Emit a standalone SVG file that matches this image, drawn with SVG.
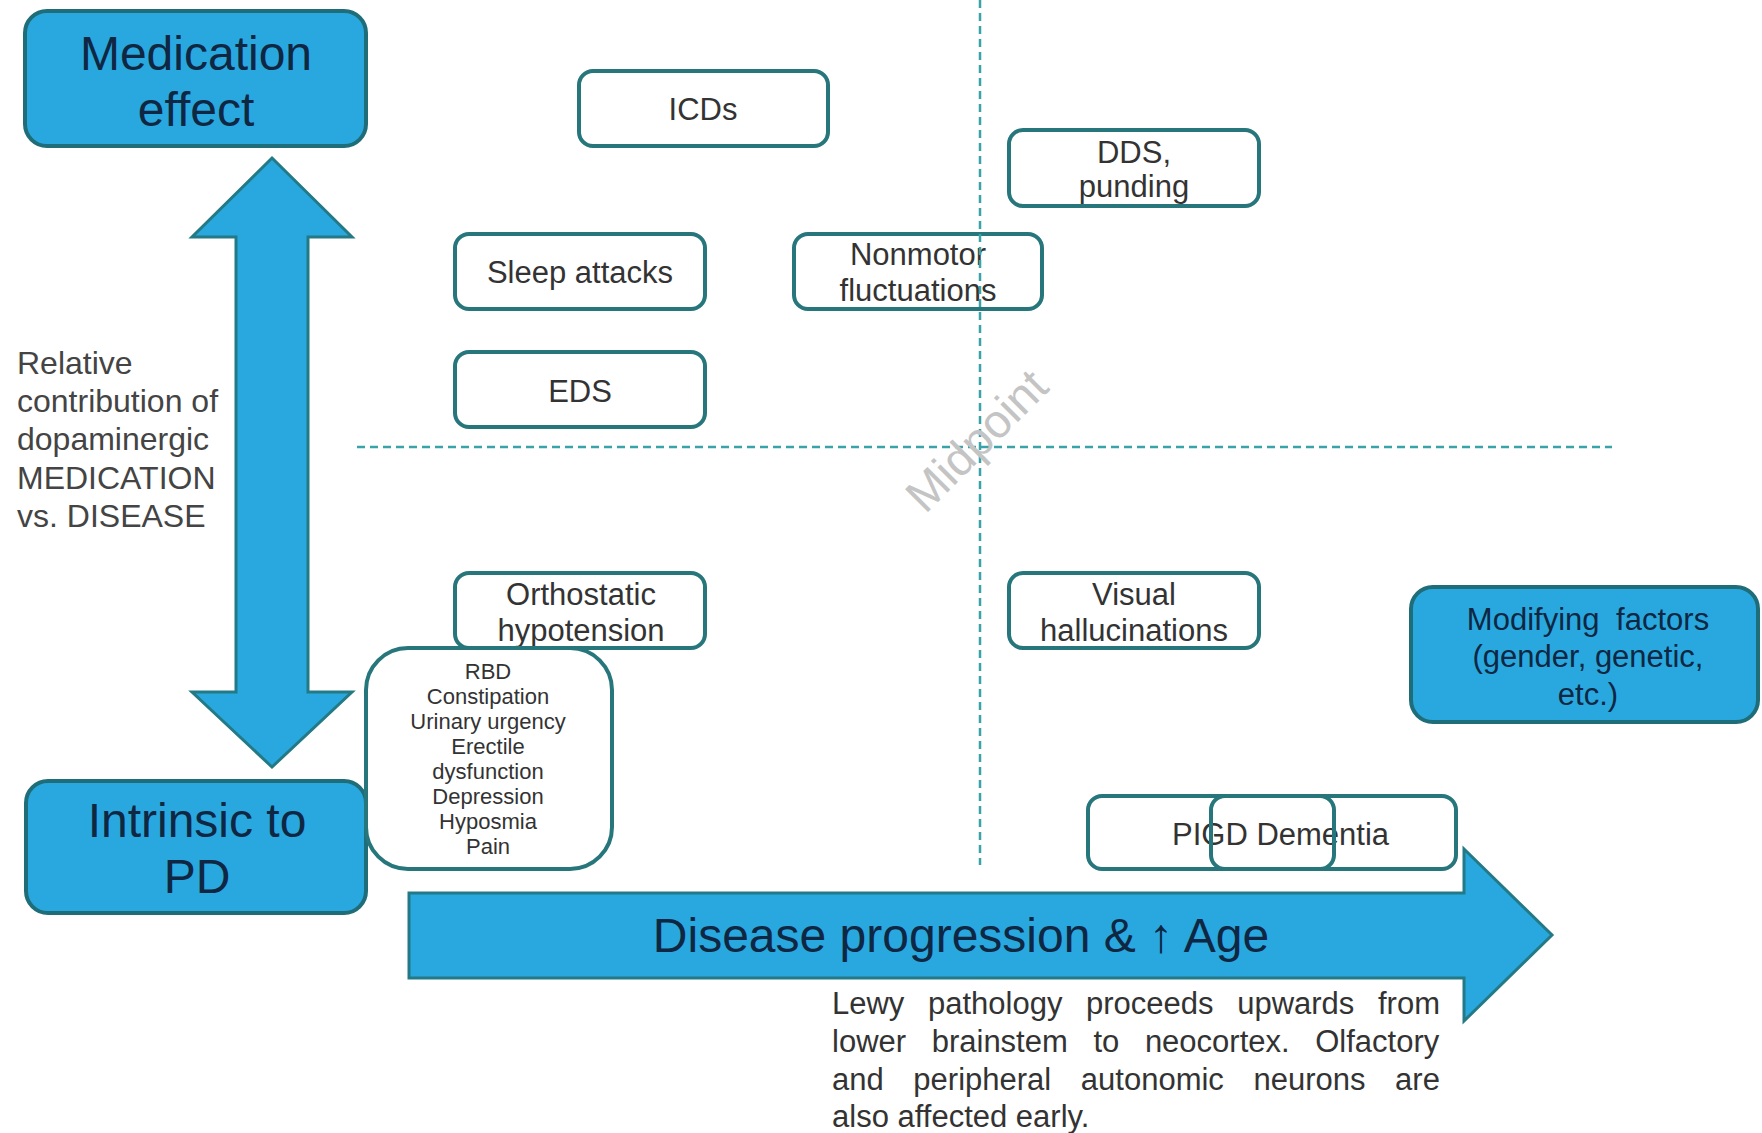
<svg xmlns="http://www.w3.org/2000/svg" width="1762" height="1133" viewBox="0 0 1762 1133">
<style>
.box{fill:#ffffff;stroke:#26767c;stroke-width:4}
.fillonly{fill:#ffffff;stroke:none}
.strokeonly{fill:none;stroke:#26767c;stroke-width:4}
.blue{fill:#29a8df;stroke:#1f6d78;stroke-width:4}
.arrow{fill:#29a8df;stroke:#237a86;stroke-width:3;stroke-linejoin:miter}
.dash{stroke:#3aa3a8;stroke-width:2.5;stroke-dasharray:8 5;fill:none}
text{font-family:"Liberation Sans",Arial,sans-serif}
.t{font-size:31px;fill:#333333;text-anchor:middle}
.big{font-size:48px;fill:#0f2742;text-anchor:middle}
.mod{font-size:31px;fill:#0f2742;text-anchor:middle}
.small{font-size:22px;fill:#333333;text-anchor:middle}
.side{font-size:32px;fill:#444444}
.para{font-size:31px;fill:#333333}
</style>

<g id="connectors">
  <polygon id="vertical-arrow" class="arrow" points="272,158 352,237 308,237 308,692 352,692 272,767 192,692 236,692 236,237 192,237"/>
  <polygon id="progression-arrow" class="arrow" points="409,893 1464,893 1464,849 1552,935 1464,1021 1464,978 409,978"/>
  <text class="big" x="961" y="952" font-size="48">Disease progression &amp; ↑ Age</text>
</g>

<g id="medication-effect">
  <rect class="blue" x="25" y="11" width="341" height="135" rx="22"/>
  <text class="big" x="196" y="70" font-size="49">Medication</text>
  <text class="big" x="196" y="126" font-size="49">effect</text>
</g>

<g id="intrinsic-to-pd">
  <rect class="blue" x="26" y="781" width="340" height="132" rx="22"/>
  <text class="big" x="197" y="837">Intrinsic to</text>
  <text class="big" x="197" y="893">PD</text>
</g>

<g id="axis-label">
  <text class="side" x="17" y="374">Relative</text>
  <text class="side" x="17" y="412">contribution of</text>
  <text class="side" x="17" y="450">dopaminergic</text>
  <text class="side" x="17" y="489">MEDICATION</text>
  <text class="side" x="17" y="527">vs. DISEASE</text>
</g>

<g id="icds">
  <rect class="box" x="579" y="71" width="249" height="75" rx="14"/>
  <text class="t" x="703" y="120">ICDs</text>
</g>

<g id="dds-punding">
  <rect class="box" x="1009" y="130" width="250" height="76" rx="14"/>
  <text class="t" x="1134" y="163">DDS,</text>
  <text class="t" x="1134" y="197">punding</text>
</g>

<g id="sleep-attacks">
  <rect class="box" x="455" y="234" width="250" height="75" rx="14"/>
  <text class="t" x="580" y="283">Sleep attacks</text>
</g>

<g id="nonmotor-fluctuations">
  <rect class="box" x="794" y="234" width="248" height="75" rx="14"/>
  <text class="t" x="918" y="265">Nonmotor</text>
  <text class="t" x="918" y="301">fluctuations</text>
</g>

<g id="eds">
  <rect class="box" x="455" y="352" width="250" height="75" rx="14"/>
  <text class="t" x="580" y="402">EDS</text>
</g>

<g id="orthostatic-hypotension">
  <rect class="box" x="455" y="573" width="250" height="75" rx="14"/>
  <text class="t" x="581" y="605">Orthostatic</text>
  <text class="t" x="581" y="641">hypotension</text>
</g>

<g id="early-symptoms">
  <rect class="box" x="366" y="648" width="246" height="221" rx="42"/>
  <text class="small" x="488" y="679">RBD</text>
  <text class="small" x="488" y="704">Constipation</text>
  <text class="small" x="488" y="729">Urinary urgency</text>
  <text class="small" x="488" y="754">Erectile</text>
  <text class="small" x="488" y="779">dysfunction</text>
  <text class="small" x="488" y="804">Depression</text>
  <text class="small" x="488" y="829">Hyposmia</text>
  <text class="small" x="488" y="854">Pain</text>
</g>

<g id="visual-hallucinations">
  <rect class="box" x="1009" y="573" width="250" height="75" rx="14"/>
  <text class="t" x="1134" y="605">Visual</text>
  <text class="t" x="1134" y="641">hallucinations</text>
</g>

<g id="modifying-factors">
  <rect class="blue" x="1411" y="587" width="347" height="135" rx="22"/>
  <text class="mod" x="1588" y="630" word-spacing="8">Modifying factors</text>
  <text class="mod" x="1588" y="667">(gender, genetic,</text>
  <text class="mod" x="1588" y="705">etc.)</text>
</g>

<g id="pigd-dementia">
  <rect class="fillonly" x="1088" y="796" width="246" height="73" rx="14"/>
  <rect class="fillonly" x="1211" y="796" width="245" height="73" rx="14"/>
  <text class="t" x="1172" y="845" style="text-anchor:start" font-size="32">PIGD Dementia</text>
  <rect class="strokeonly" x="1088" y="796" width="246" height="73" rx="14"/>
  <rect class="strokeonly" x="1211" y="796" width="245" height="73" rx="14"/>
</g>

<g id="quadrant-lines">
  <line class="dash" x1="357" y1="447" x2="1612" y2="447"/>
  <line class="dash" x1="980" y1="0" x2="980" y2="865"/>
  <text x="988" y="452" transform="rotate(-45 988 452)" font-size="47" fill="#c4c4c4" text-anchor="middle">Midpoint</text>
</g>

<g id="lewy-note">
  <text class="para" x="832" y="1014" word-spacing="15">Lewy pathology proceeds upwards from</text>
  <text class="para" x="832" y="1052" word-spacing="17">lower brainstem to neocortex. Olfactory</text>
  <text class="para" x="832" y="1090" word-spacing="21">and peripheral autonomic neurons are</text>
  <text class="para" x="832" y="1127">also affected early.</text>
</g>
</svg>
